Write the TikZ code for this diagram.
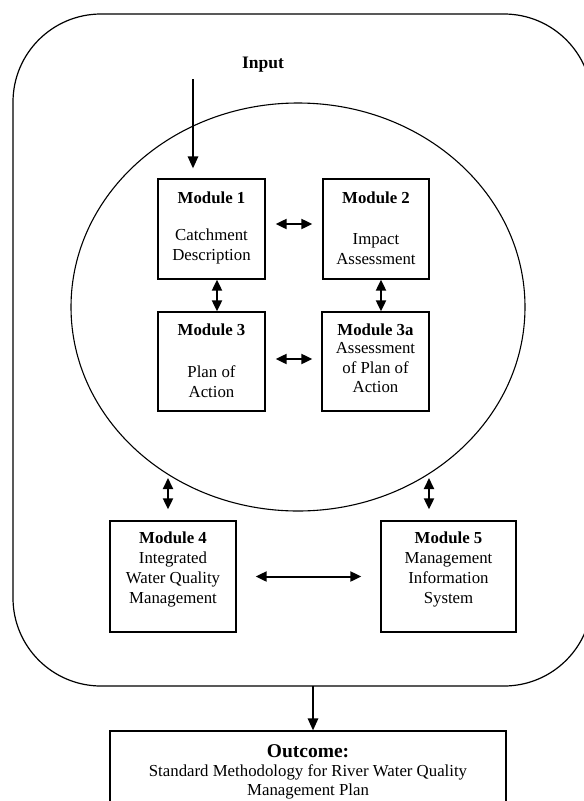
\documentclass[tikz,border=0pt]{standalone}
\usepackage{fontspec}
\setmainfont{Liberation Serif}
\usetikzlibrary{arrows.meta,shapes.geometric}
\begin{document}
\begin{tikzpicture}[x=1pt,y=-1pt,
  box/.style={draw, line width=1.3pt, inner sep=0pt},
  txt/.style={anchor=base, inner sep=0pt, font=\fontsize{16.8}{20}\selectfont},
  ttl/.style={txt, font=\fontsize{16.8}{20}\selectfont\bfseries},
  dbl/.style={line width=2pt, {Triangle[length=11pt,width=10pt]}-{Triangle[length=11pt,width=10pt]}},
  sgl/.style={line width=1.5pt, -{Triangle[length=12pt,width=10.5pt]}}]
\useasboundingbox (0,0) rectangle (584,801);
\clip (0,0) rectangle (584,801);

% outer frame and inner ellipse
\node[draw, line width=1.2pt, rounded corners=88pt, minimum width=579pt, minimum height=672pt, inner sep=0pt] (outer) at (302.5,350) {};
\node[draw, line width=1.1pt, ellipse, minimum width=454pt, minimum height=408pt, inner sep=0pt] (core) at (298,307) {};

% input
\node[font=\fontsize{17.5}{20}\selectfont\bfseries, anchor=base, inner sep=0pt] (input) at (263,68) {Input};
\coordinate (inarrow) at (193,79);

% module boxes
\node[box, minimum width=107pt, minimum height=100pt] (m1) at (211.5,229) {};
\node[box, minimum width=106pt, minimum height=100pt] (m2) at (376,229) {};
\node[box, minimum width=107pt, minimum height=99pt] (m3) at (211.5,361.5) {};
\node[box, minimum width=107pt, minimum height=99pt] (m3a) at (375.5,361.5) {};
\node[box, minimum width=126pt, minimum height=111pt] (m4) at (173,576.5) {};
\node[box, minimum width=135pt, minimum height=111pt] (m5) at (448.5,576.5) {};

% module texts
\node[ttl] (m1t) at (211.5,203) {Module 1};
\node[txt] (m1a) at (211.5,240) {Catchment};
\node[txt] (m1b) at (211.5,260) {Description};

\node[ttl] (m2t) at (376,203) {Module 2};
\node[txt] (m2a) at (376,244) {Impact};
\node[txt] (m2b) at (376,264) {Assessment};

\node[ttl] (m3t) at (211.5,335) {Module 3};
\node[txt] (m3x) at (211.5,377) {Plan of};
\node[txt] (m3y) at (211.5,397) {Action};

\node[ttl] (m3at) at (375.5,335) {Module 3a};
\node[txt] (m3aa) at (375.5,353) {Assessment};
\node[txt] (m3ab) at (375.5,373) {of Plan of};
\node[txt] (m3ac) at (375.5,392) {Action};

\node[ttl] (m4t) at (173,543) {Module 4};
\node[txt] (m4a) at (173,563) {Integrated};
\node[txt] (m4b) at (173,583) {Water Quality};
\node[txt] (m4c) at (173,603) {Management};

\node[ttl] (m5t) at (448.5,543) {Module 5};
\node[txt] (m5a) at (448.5,563) {Management};
\node[txt] (m5b) at (448.5,583) {Information};
\node[txt] (m5c) at (448.5,603) {System};

% outcome
\node[draw, line width=1.3pt, minimum width=396pt, minimum height=90pt, inner sep=0pt] (outbox) at (308,776) {};
\node[font=\fontsize{19.5}{20}\selectfont\bfseries, anchor=base, inner sep=0pt] (outt) at (308,757) {Outcome:};
\node[txt] (outa) at (308,776) {Standard Methodology for River Water Quality};
\node[txt] (outb) at (308,795) {Management Plan};
\coordinate (outarrow) at (313,686);

% free ends of the two links between the ellipse and modules 4 and 5
\coordinate (l4) at (168,478);
\coordinate (l5) at (429,478);

% connectors
\draw[sgl, shorten >=10pt] (inarrow) -- (m1.north -| inarrow);
\draw[dbl, shorten <=10pt, shorten >=10pt] ([yshift=5pt]m1.east) -- ([yshift=5pt]m2.west);
\draw[dbl, shorten <=10pt, shorten >=9pt] ([yshift=2.5pt]m3.east) -- ([yshift=2.5pt]m3a.west);
\draw[dbl] ([xshift=5.5pt]m1.south) -- ([xshift=5.5pt]m3.north);
\draw[dbl] ([xshift=5pt]m2.south) -- ([xshift=5.5pt]m3a.north);
\draw[dbl, shorten >=11pt] (l4) -- (m4.north -| l4);
\draw[dbl, shorten >=11pt] (l5) -- (m5.north -| l5);
\draw[dbl, shorten <=19pt, shorten >=19pt] (m4.east) -- (m5.west);
\draw[sgl] (outarrow) -- (outbox.north -| outarrow);
\end{tikzpicture}
\end{document}
